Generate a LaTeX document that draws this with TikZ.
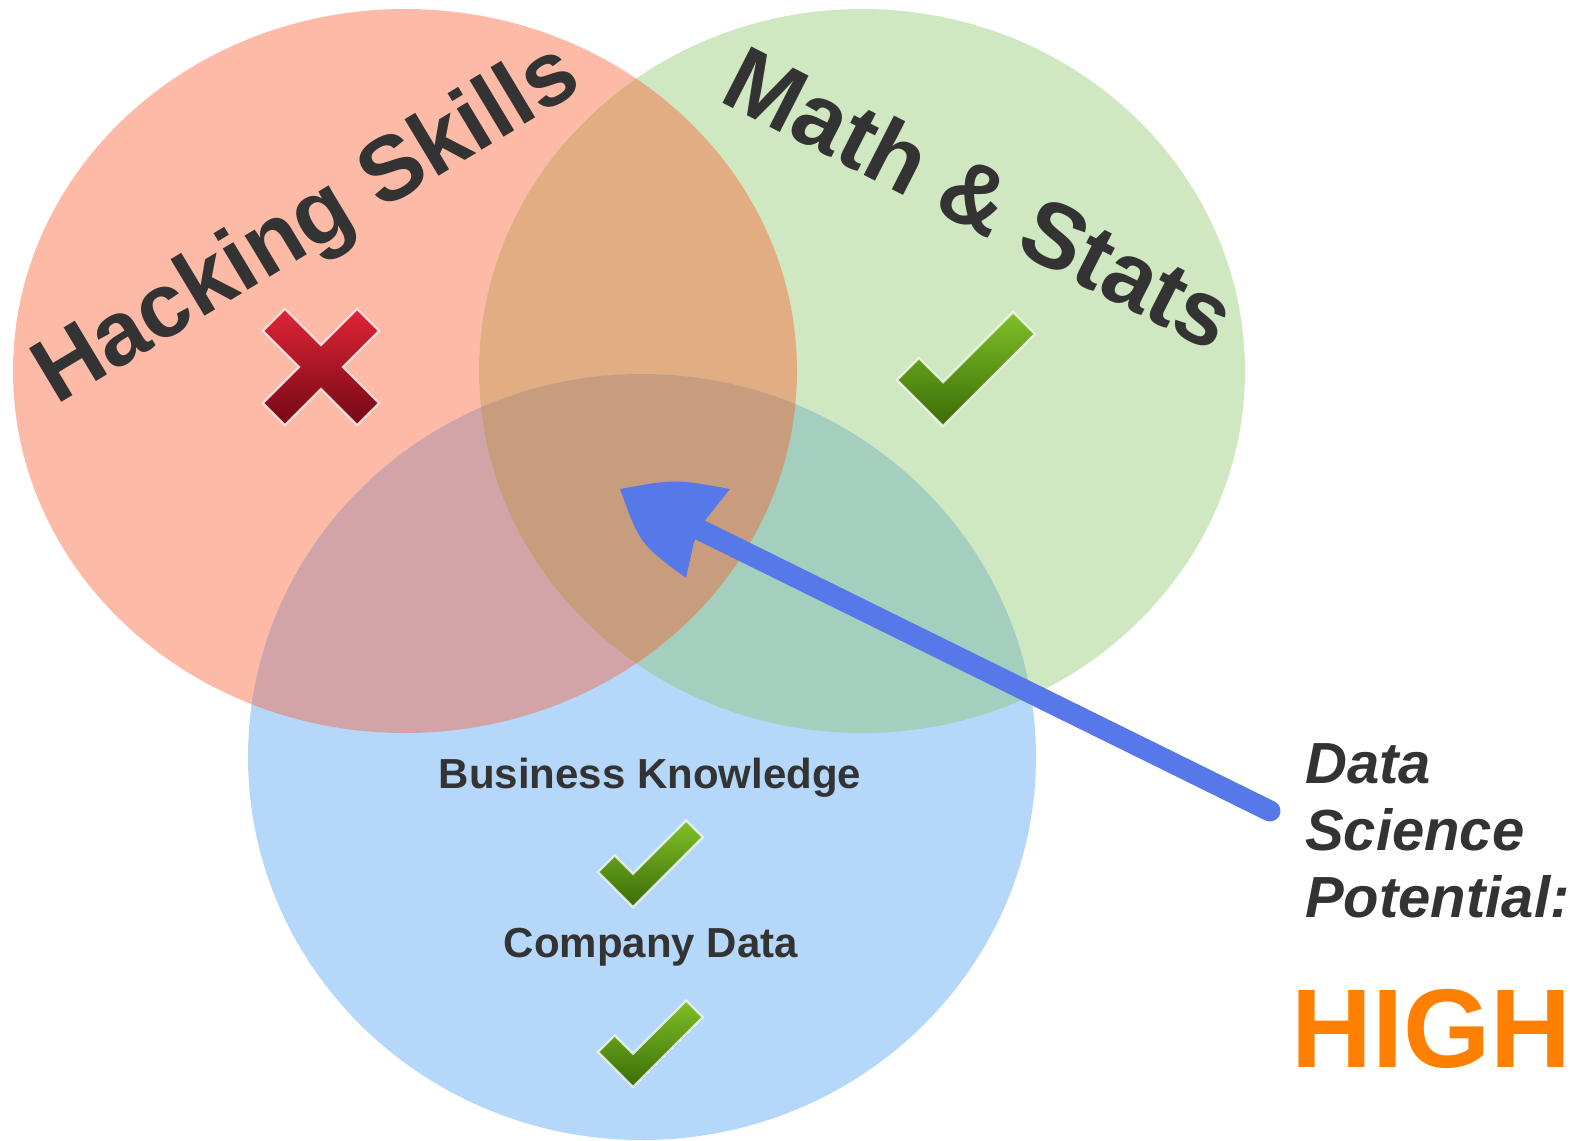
\documentclass[tikz,border=0pt]{standalone}
\usepackage{fontspec}
\setmainfont{Liberation Sans}
\definecolor{redc}{RGB}{253,187,167}
\definecolor{greenc}{RGB}{208,232,193}
\definecolor{bluec}{RGB}{180,215,250}
\definecolor{rgc}{RGB}{226,173,131}
\definecolor{rbc}{RGB}{210,164,167}
\definecolor{gbc}{RGB}{164,207,190}
\definecolor{rgbc}{RGB}{199,157,126}
\definecolor{txtgray}{RGB}{51,51,51}
\definecolor{arrowc}{RGB}{87,120,233}
\definecolor{highc}{RGB}{255,128,0}
\definecolor{tickhi}{RGB}{128,192,40}
\definecolor{ticklo}{RGB}{58,108,6}
\definecolor{crosshi}{RGB}{224,36,56}
\definecolor{crosslo}{RGB}{116,8,20}
\begin{document}
% one unit is one pixel; y grows upwards, so the page runs from y=0 down to y=-1140
\begin{tikzpicture}[x=1pt,y=1pt,
  lbl/.style={inner sep=0pt, font=\bfseries, text=txtgray},
  pics/tick/.style={code={
    \path[top color=tickhi, bottom color=ticklo, draw=white, draw opacity=0.75, line width=2.2pt, line join=miter]
      (0,0) -- (-46,46) -- (-24.1,67.9) -- (0,43.8) -- (70,113.8) -- (91.9,91.9) -- cycle;
  }},
  pics/cross/.style={code={
    \path[top color=crosshi, bottom color=crosslo, draw=white, draw opacity=0.75, line width=2.2pt, line join=miter]
      (58,-36.1) -- (21.9,0) -- (58,36.1) -- (36.1,58) -- (0,21.9) -- (-36.1,58)
      -- (-58,36.1) -- (-21.9,0) -- (-58,-36.1) -- (-36.1,-58) -- (0,-21.9) -- (36.1,-58) -- cycle;
  }}
]
\useasboundingbox (0,0) rectangle (1592,-1140);

% the three sets
\def\redset{(405,-371) ellipse [x radius=392, y radius=362]}
\def\greenset{(862,-371) ellipse [x radius=383, y radius=362]}
\def\blueset{(642,-757) ellipse [x radius=394, y radius=383]}

\fill[redc] \redset;
\fill[greenc] \greenset;
\fill[bluec] \blueset;
\begin{scope}\clip \redset; \fill[rgc] \greenset;\end{scope}
\begin{scope}\clip \redset; \fill[rbc] \blueset;\end{scope}
\begin{scope}\clip \greenset; \fill[gbc] \blueset;\end{scope}
\begin{scope}\clip \redset; \clip \greenset; \fill[rgbc] \blueset;\end{scope}

% set labels
\node[lbl, font=\bfseries\fontsize{91}{91}\selectfont, rotate=31, anchor=base west] (hack) at (56,-406) {Hacking Skills};
\node[lbl, font=\bfseries\fontsize{92}{92}\selectfont, rotate=-27, anchor=base west] (math) at (717,-100) {Math \& Stats};
\node[lbl, font=\bfseries\fontsize{42}{42}\selectfont, anchor=base] (biz) at (650,-788) {Business Knowledge};
\node[lbl, font=\bfseries\fontsize{42}{42}\selectfont, anchor=base] (comp) at (651,-957) {Company Data};

% verdict marks
\pic at (321,-367) {cross};
\pic at (943,-426) {tick};
\pic[scale=0.76] at (633,-907) {tick};
\pic[scale=0.76] at (633,-1087) {tick};

% verdict text
\node[lbl, font=\bfseries\itshape\fontsize{58}{67}\selectfont, align=left, anchor=north west] (dsp) at (1305,-743) {Data\\Science\\Potential:};
\node[inner sep=0pt, font=\bfseries\fontsize{112}{112}\selectfont, text=highc, anchor=base west] (high) at (1291,-1067) {HIGH};

% pointer into the centre
\coordinate (tail) at (1270,-811);
\coordinate (neck) at (690,-525);
\coordinate (tip) at (620,-489);
\draw[arrowc, line width=21pt, line cap=round] (tail) -- (neck);
\fill[arrowc] (tip) .. controls (675,-479) .. (730,-489) -- (706,-519) -- (694,-542) -- (686,-578)
  .. controls (640,-544) .. (tip) -- cycle;
\end{tikzpicture}
\end{document}
